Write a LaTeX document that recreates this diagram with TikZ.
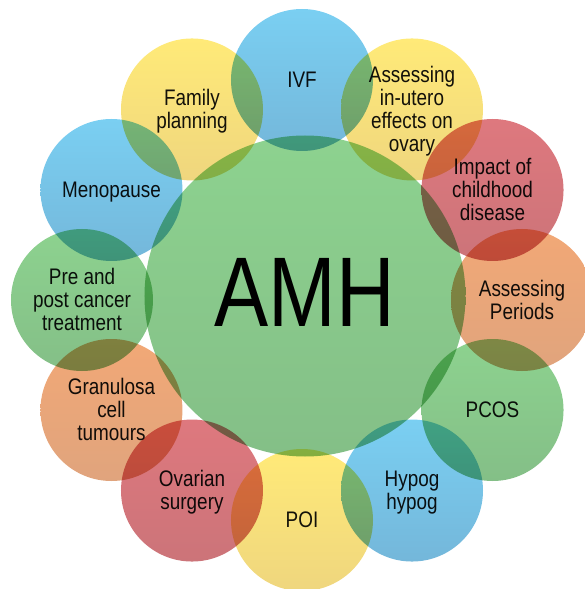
\documentclass[tikz,border=0pt]{standalone}
\usepackage{fontspec}
\setmainfont{Liberation Sans}
\usepackage{graphicx}
\usepackage{xcolor}

\definecolor{blueTop}{HTML}{7ACFF2}
\definecolor{blueBot}{HTML}{74B7DA}
\definecolor{yellowTop}{HTML}{FFEA78}
\definecolor{yellowBot}{HTML}{EFD67E}
\definecolor{redTop}{HTML}{DE787E}
\definecolor{redBot}{HTML}{CC7479}
\definecolor{orangeTop}{HTML}{F2A876}
\definecolor{orangeBot}{HTML}{E0A47D}
\definecolor{greenTop}{HTML}{8DD28F}
\definecolor{greenBot}{HTML}{84BF87}
\definecolor{labelInk}{HTML}{141414}

% narrow, centred label text
\newcommand{\bubbletext}[1]{\raisebox{-3pt}[\height][\depth]{\scalebox{0.84}[1]{\begin{tabular}{@{}c@{}}#1\end{tabular}}}}

\begin{document}
\begin{tikzpicture}[x=1pt,y=1pt,
            bubble/.style={circle,minimum size=142pt,inner sep=0pt,
                font=\fontsize{22.5}{23}\selectfont,text=labelInk},
            blue bubble/.style={bubble,top color=blueTop,bottom color=blueBot},
            yellow bubble/.style={bubble,top color=yellowTop,bottom color=yellowBot},
            red bubble/.style={bubble,top color=redTop,bottom color=redBot},
            orange bubble/.style={bubble,top color=orangeTop,bottom color=orangeBot},
            green bubble/.style={bubble,top color=greenTop,bottom color=greenBot}]
            \useasboundingbox (-302,-289) rectangle (282,300);

            \begin{scope}[blend group=multiply]
            % Define the centre circle
            \node[circle,minimum size=321pt,inner sep=0pt,
                top color=greenTop,bottom color=greenBot,
                font=\fontsize{99}{99}\selectfont,text=black] (AMH) at (3,4)
                {\raisebox{4pt}[\height][\depth]{\scalebox{0.82}[1]{AMH}}};

            % Define the outer circles
            \node[blue bubble]   (IVF)       at (90:220)   {\bubbletext{IVF}};
            \node[yellow bubble] (Utero)     at (60:220)   {\bubbletext{Assessing\\in-utero\\effects on\\ovary}};
            \node[red bubble]    (Impact)    at (30:220)   {\bubbletext{Impact of\\childhood\\disease}};
            \node[orange bubble] (Periods)   at (0:220)    {\bubbletext{Assessing\\Periods}};
            \node[green bubble]  (PCOS)      at (-30:220)  {\bubbletext{PCOS}};
            \node[blue bubble]   (Hypog)     at (-60:220)  {\bubbletext{Hypog\\hypog}};
            \node[yellow bubble] (POI)       at (-90:220)  {\bubbletext{POI}};
            \node[red bubble]    (Ovarian)   at (-120:220) {\bubbletext{Ovarian\\surgery}};
            \node[orange bubble] (Granulosa) at (-150:220) {\bubbletext{Granulosa\\cell\\tumours}};
            \node[green bubble]  (Cancer)    at (180:220)  {\bubbletext{Pre and\\post cancer\\treatment}};
            \node[blue bubble]   (Menopause) at (150:220)  {\bubbletext{Menopause}};
            \node[yellow bubble] (Family)    at (120:220)  {\bubbletext{Family\\planning}};
            \end{scope}

        \end{tikzpicture}
\end{document}
